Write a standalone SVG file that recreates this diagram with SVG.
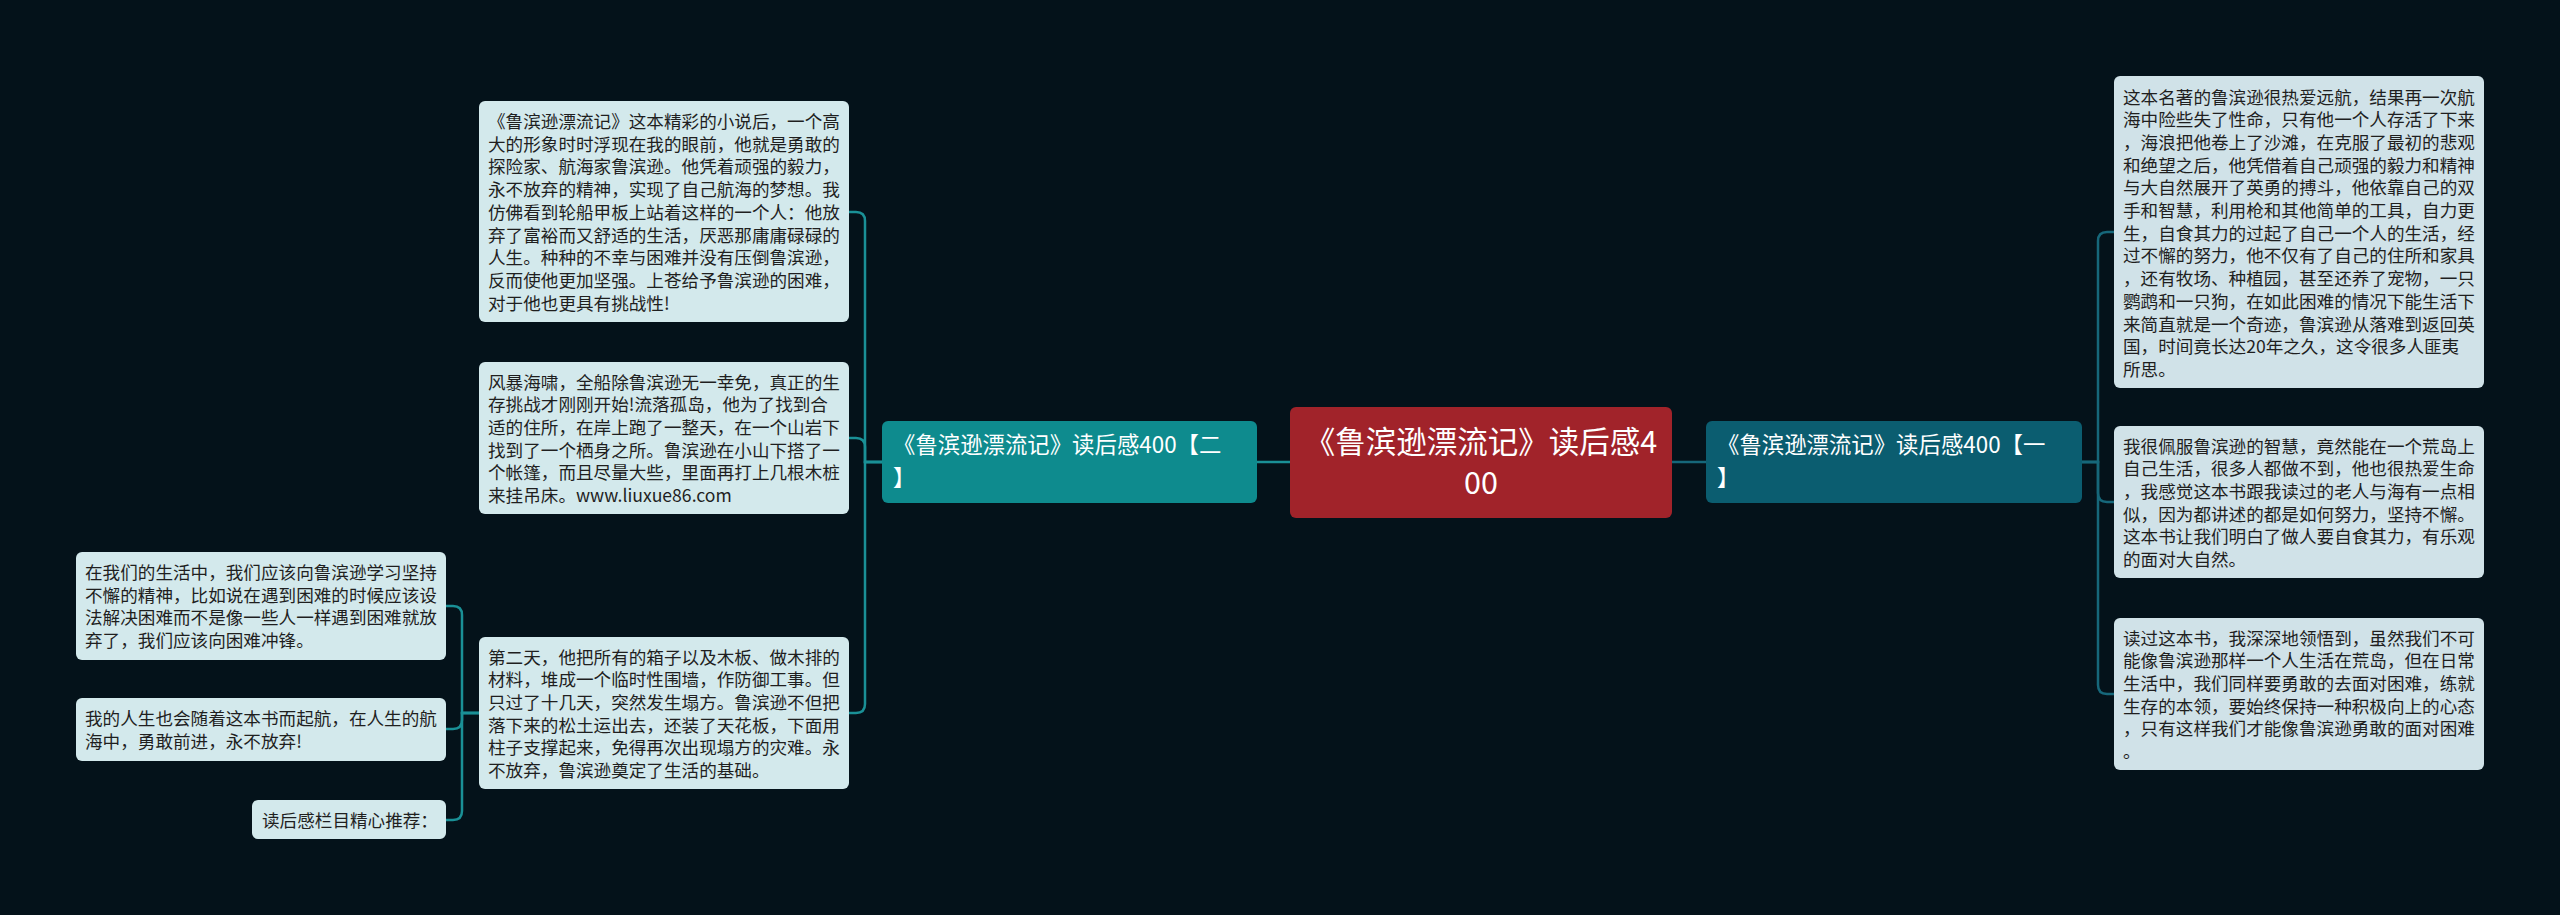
<svg xmlns="http://www.w3.org/2000/svg" width="2560" height="915" viewBox="0 0 2560 915">
<style>
.bg{fill:#04121a}
.leafL{fill:#d3e9ec}
.leafR{fill:#d0e2e8}
.t{font-family:"Noto Sans CJK SC","Noto Sans",sans-serif;font-size:17.6px;fill:#1f1f1f}
.bt{font-family:"Noto Sans CJK SC","Noto Sans",sans-serif;font-size:22.4px;fill:#ffffff}
.ct{font-family:"Noto Sans CJK SC","Noto Sans",sans-serif;font-size:30.5px;fill:#ffffff}
.cl{fill:none;stroke:#1a9096;stroke-width:2.5}
.cr{fill:none;stroke:#16677a;stroke-width:2.5}
</style>
<rect class="bg" x="0" y="0" width="2560" height="915"/>
<g id="connectors">
<path class="cl" d="M1290,462 H1257"/>
<path class="cr" d="M1672,462 H1706"/>
<path class="cl" d="M882,462 H865 V221 Q865,212 856,212 H849"/>
<path class="cl" d="M882,462 H865 V447 Q865,438 856,438 H849"/>
<path class="cl" d="M882,462 H865 V704 Q865,713 856,713 H849"/>
<path class="cl" d="M479,713 H462 V615 Q462,606 453,606 H446"/>
<path class="cl" d="M479,713 H462 V720 Q462,729 453,729 H446"/>
<path class="cl" d="M479,713 H462 V811 Q462,820 453,820 H446"/>
<path class="cr" d="M2082,462 H2098 V241 Q2098,232 2107,232 H2114"/>
<path class="cr" d="M2082,462 H2098 V493 Q2098,502 2107,502 H2114"/>
<path class="cr" d="M2082,462 H2098 V685 Q2098,694 2107,694 H2114"/>
</g>
<g id="center">
<rect x="1290" y="407" width="382" height="111" rx="6" fill="#a1232a"/>
<text class="ct" x="1481" y="453" text-anchor="middle">《鲁滨逊漂流记》读后感4</text>
<text class="ct" x="1481" y="494" text-anchor="middle">00</text>
</g>
<g id="branch-left">
<rect x="882" y="421" width="375" height="82" rx="6" fill="#0e8b8e"/>
<text class="bt" x="893" y="453">《鲁滨逊漂流记》读后感400【二</text>
<text class="bt" x="893" y="486">】</text>
</g>
<g id="branch-right">
<rect x="1706" y="421" width="376" height="82" rx="6" fill="#0b5d70"/>
<text class="bt" x="1717" y="453">《鲁滨逊漂流记》读后感400【一</text>
<text class="bt" x="1717" y="486">】</text>
</g>
<g id="leaf-l1">
<rect class="leafL" x="479" y="101" width="370" height="221" rx="6"/>
<text class="t" x="488" y="128">《鲁滨逊漂流记》这本精彩的小说后，一个高</text>
<text class="t" x="488" y="150.7">大的形象时时浮现在我的眼前，他就是勇敢的</text>
<text class="t" x="488" y="173.4">探险家、航海家鲁滨逊。他凭着顽强的毅力，</text>
<text class="t" x="488" y="196.1">永不放弃的精神，实现了自己航海的梦想。我</text>
<text class="t" x="488" y="218.8">仿佛看到轮船甲板上站着这样的一个人：他放</text>
<text class="t" x="488" y="241.5">弃了富裕而又舒适的生活，厌恶那庸庸碌碌的</text>
<text class="t" x="488" y="264.2">人生。种种的不幸与困难并没有压倒鲁滨逊，</text>
<text class="t" x="488" y="286.9">反而使他更加坚强。上苍给予鲁滨逊的困难，</text>
<text class="t" x="488" y="309.6">对于他也更具有挑战性!</text>
</g>
<g id="leaf-l2">
<rect class="leafL" x="479" y="362" width="370" height="152" rx="6"/>
<text class="t" x="488" y="388.5">风暴海啸，全船除鲁滨逊无一幸免，真正的生</text>
<text class="t" x="488" y="411.2">存挑战才刚刚开始!流落孤岛，他为了找到合</text>
<text class="t" x="488" y="433.9">适的住所，在岸上跑了一整天，在一个山岩下</text>
<text class="t" x="488" y="456.6">找到了一个栖身之所。鲁滨逊在小山下搭了一</text>
<text class="t" x="488" y="479.3">个帐篷，而且尽量大些，里面再打上几根木桩</text>
<text class="t" x="488" y="502">来挂吊床。www.liuxue86.com</text>
</g>
<g id="leaf-l3">
<rect class="leafL" x="479" y="637" width="370" height="152" rx="6"/>
<text class="t" x="488" y="663.5">第二天，他把所有的箱子以及木板、做木排的</text>
<text class="t" x="488" y="686.2">材料，堆成一个临时性围墙，作防御工事。但</text>
<text class="t" x="488" y="708.9">只过了十几天，突然发生塌方。鲁滨逊不但把</text>
<text class="t" x="488" y="731.6">落下来的松土运出去，还装了天花板，下面用</text>
<text class="t" x="488" y="754.3">柱子支撑起来，免得再次出现塌方的灾难。永</text>
<text class="t" x="488" y="777">不放弃，鲁滨逊奠定了生活的基础。</text>
</g>
<g id="leaf-fl1">
<rect class="leafL" x="76" y="552" width="370" height="108" rx="6"/>
<text class="t" x="85" y="579">在我们的生活中，我们应该向鲁滨逊学习坚持</text>
<text class="t" x="85" y="601.7">不懈的精神，比如说在遇到困难的时候应该设</text>
<text class="t" x="85" y="624.4">法解决困难而不是像一些人一样遇到困难就放</text>
<text class="t" x="85" y="647.1">弃了，我们应该向困难冲锋。</text>
</g>
<g id="leaf-fl2">
<rect class="leafL" x="76" y="698" width="370" height="63" rx="6"/>
<text class="t" x="85" y="725">我的人生也会随着这本书而起航，在人生的航</text>
<text class="t" x="85" y="747.7">海中，勇敢前进，永不放弃!</text>
</g>
<g id="leaf-fl3">
<rect class="leafL" x="252" y="800" width="194" height="39" rx="6"/>
<text class="t" x="262" y="826.5">读后感栏目精心推荐：</text>
</g>
<g id="leaf-r1">
<rect class="leafR" x="2114" y="76" width="370" height="312" rx="6"/>
<text class="t" x="2123" y="103.5">这本名著的鲁滨逊很热爱远航，结果再一次航</text>
<text class="t" x="2123" y="126.2">海中险些失了性命，只有他一个人存活了下来</text>
<text class="t" x="2123" y="148.9">，海浪把他卷上了沙滩，在克服了最初的悲观</text>
<text class="t" x="2123" y="171.6">和绝望之后，他凭借着自己顽强的毅力和精神</text>
<text class="t" x="2123" y="194.3">与大自然展开了英勇的搏斗，他依靠自己的双</text>
<text class="t" x="2123" y="217">手和智慧，利用枪和其他简单的工具，自力更</text>
<text class="t" x="2123" y="239.7">生，自食其力的过起了自己一个人的生活，经</text>
<text class="t" x="2123" y="262.4">过不懈的努力，他不仅有了自己的住所和家具</text>
<text class="t" x="2123" y="285.1">，还有牧场、种植园，甚至还养了宠物，一只</text>
<text class="t" x="2123" y="307.8">鹦鹉和一只狗，在如此困难的情况下能生活下</text>
<text class="t" x="2123" y="330.5">来简直就是一个奇迹，鲁滨逊从落难到返回英</text>
<text class="t" x="2123" y="353.2">国，时间竟长达20年之久，这令很多人匪夷</text>
<text class="t" x="2123" y="375.9">所思。</text>
</g>
<g id="leaf-r2">
<rect class="leafR" x="2114" y="426" width="370" height="152" rx="6"/>
<text class="t" x="2123" y="452.5">我很佩服鲁滨逊的智慧，竟然能在一个荒岛上</text>
<text class="t" x="2123" y="475.2">自己生活，很多人都做不到，他也很热爱生命</text>
<text class="t" x="2123" y="497.9">，我感觉这本书跟我读过的老人与海有一点相</text>
<text class="t" x="2123" y="520.6">似，因为都讲述的都是如何努力，坚持不懈。</text>
<text class="t" x="2123" y="543.3">这本书让我们明白了做人要自食其力，有乐观</text>
<text class="t" x="2123" y="566">的面对大自然。</text>
</g>
<g id="leaf-r3">
<rect class="leafR" x="2114" y="618" width="370" height="152" rx="6"/>
<text class="t" x="2123" y="644.5">读过这本书，我深深地领悟到，虽然我们不可</text>
<text class="t" x="2123" y="667.2">能像鲁滨逊那样一个人生活在荒岛，但在日常</text>
<text class="t" x="2123" y="689.9">生活中，我们同样要勇敢的去面对困难，练就</text>
<text class="t" x="2123" y="712.6">生存的本领，要始终保持一种积极向上的心态</text>
<text class="t" x="2123" y="735.3">，只有这样我们才能像鲁滨逊勇敢的面对困难</text>
<text class="t" x="2123" y="758">。</text>
</g>
</svg>
